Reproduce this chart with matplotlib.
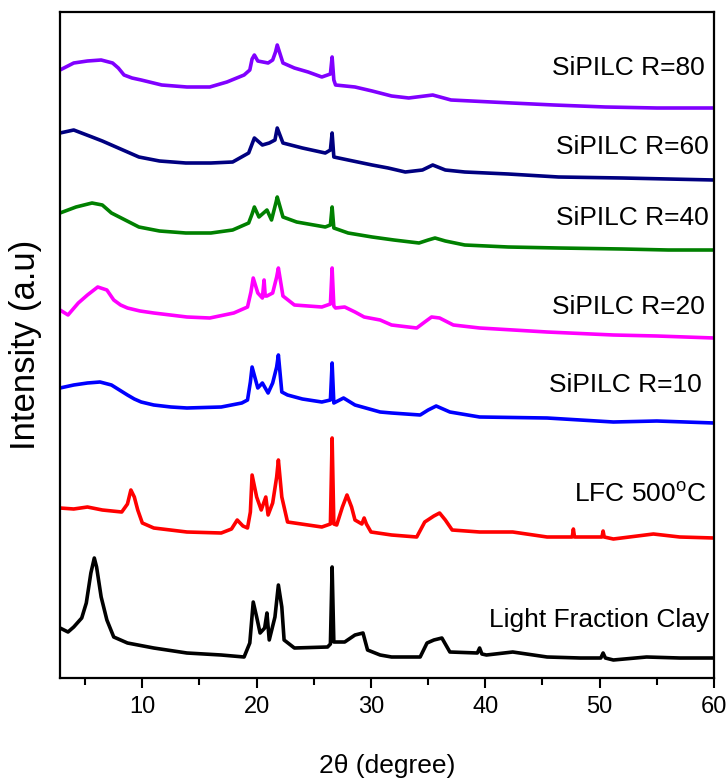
import matplotlib
matplotlib.use("Agg")
import matplotlib.pyplot as plt
from matplotlib import font_manager

# ---------------- data ----------------
lfc_x = [2.8, 3.5, 4.0, 4.7, 5.1, 5.5, 5.8, 6.0, 6.4, 6.9, 7.5, 8.7, 11.0, 13.9, 16.9, 18.9,
         19.4, 19.7, 20.0, 20.3, 20.7, 20.9, 21.1, 21.6, 21.9, 22.2, 22.4, 23.3, 26.2, 26.45,
         26.6, 26.75, 27.7, 28.6, 29.3, 29.7, 30.8, 31.8, 34.3, 34.9, 35.5, 36.2, 36.9, 39.3,
         39.5, 39.7, 40.1, 42.4, 45.4, 48.3, 50.1, 50.3, 50.5, 51.2, 54.1, 57.0, 60.0]
lfc_y = [34, 30, 35, 44, 59, 89, 104, 95, 65, 42, 25, 19, 14, 9, 7, 5,
         19, 60, 45, 29, 34, 49, 22, 45, 77, 55, 22, 14, 15, 18,
         95, 20, 20, 27, 29, 12, 7, 5, 5, 19, 22, 24, 10, 9,
         14, 8, 7, 10, 5, 4, 4, 9, 4, 2, 5, 4, 4]

c500_x = [2.8, 4.0, 5.2, 6.5, 8.2, 8.7, 9.0, 9.3, 9.6, 10.0, 11.0, 13.9, 16.9, 17.8, 18.3,
          18.8, 19.2, 19.45, 19.6, 20.0, 20.4, 20.8, 21.0, 21.4, 21.75, 21.9, 22.2, 22.7,
          25.7, 26.45, 26.6, 26.75, 27.0, 27.5, 27.9, 28.3, 28.6, 29.2, 29.4, 29.6, 30.0,
          31.8, 34.0, 34.7, 35.5, 36.0, 36.5, 37.1, 39.5, 42.4, 45.4, 47.6, 47.7, 47.8,
          50.2, 50.3, 50.4, 51.2, 54.7, 57.0, 60.0]
c500_y = [154, 153, 155, 152, 150, 158, 172, 165, 152, 139, 134, 130, 129, 133, 142,
          136, 134, 150, 187, 165, 152, 165, 147, 159, 185, 202, 165, 140,
          135, 138, 224, 138, 137, 155, 167, 155, 142, 138, 144, 138, 130,
          127, 125, 140, 146, 149, 142, 132, 130, 130, 125, 125, 133, 125,
          125, 131, 125, 123, 128, 125, 124]

r10_x = [2.8, 4.0, 5.2, 6.3, 7.3, 8.0, 8.7, 9.3, 9.9, 11.0, 12.5, 13.9, 16.9, 18.7, 19.2, 19.45,
         19.6, 20.1, 20.5, 21.0, 21.4, 21.75, 21.9, 22.2, 22.7, 24.0, 25.7, 26.45, 26.6, 26.75,
         27.6, 28.6, 30.8, 31.8, 34.3, 35.0, 35.7, 36.9, 39.5, 45.4, 51.2, 55.0, 60.0]
r10_y = [274, 277, 279, 280, 277, 272, 267, 263, 260, 257, 255, 254, 255, 259, 262, 280,
         295, 274, 279, 269, 279, 295, 307, 270, 267, 263, 260, 262, 299, 259,
         264, 257, 250, 249, 247, 252, 256, 250, 245, 244, 240, 241, 239]

r20_x = [2.8, 3.5, 4.4, 5.2, 6.1, 6.9, 7.5, 8.1, 8.7, 9.8, 11.0, 13.9, 15.9, 18.0, 19.2, 19.5,
         19.7, 20.1, 20.5, 20.65, 20.75, 20.9, 21.4, 21.75, 21.9, 22.3, 23.3, 25.7, 26.45,
         26.6, 26.75, 26.9, 27.7, 28.6, 29.4, 30.8, 31.8, 34.0, 34.7, 35.3, 36.0, 37.2,
         39.5, 45.4, 51.2, 55.0, 60.0]
r20_y = [352, 347, 359, 367, 375, 372, 362, 357, 354, 351, 349, 345, 344, 349, 355, 370,
         384, 369, 364, 382, 366, 366, 369, 385, 394, 366, 357, 355, 358,
         394, 356, 354, 355, 350, 345, 342, 337, 334, 340, 345, 344, 337,
         334, 330, 327, 326, 324]

r40_x = [2.8, 4.2, 5.6, 6.5, 7.3, 8.5, 9.7, 11.5, 13.8, 16.0, 17.9, 19.3, 19.6, 19.8, 20.2,
         20.9, 21.3, 21.7, 21.8, 22.3, 23.5, 26.0, 26.45, 26.6, 26.75, 28.0, 30.1, 32.0,
         34.2, 35.0, 35.6, 36.5, 38.2, 42.0, 46.4, 52.0, 56.0, 60.0]
r40_y = [449, 455, 459, 457, 449, 442, 435, 431, 429, 429, 432, 439, 448, 455, 445,
         452, 442, 460, 465, 445, 440, 435, 437, 455, 434, 429, 425, 422,
         419, 422, 424, 421, 417, 415, 414, 413, 412, 412]

r60_x = [2.8, 4.0, 5.6, 6.5, 7.7, 8.7, 9.7, 11.5, 13.8, 16.0, 17.9, 19.3, 19.6, 19.8, 20.5,
         21.1, 21.6, 21.8, 22.3, 24.0, 26.0, 26.45, 26.6, 26.75, 28.0, 30.1, 31.5, 33.0,
         34.5, 35.4, 36.5, 38.2, 42.0, 46.4, 52.0, 56.0, 60.0]
r60_y = [529, 532, 525, 521, 515, 510, 505, 501, 499, 499, 500, 509, 518, 524, 517,
         519, 522, 534, 519, 514, 509, 512, 529, 505, 502, 497, 494, 490,
         492, 497, 492, 490, 488, 485, 484, 483, 482]

r80_x = [2.8, 4.0, 5.2, 6.4, 7.4, 7.9, 8.4, 9.1, 9.9, 11.7, 13.9, 15.9, 17.4, 18.9, 19.4, 19.6,
         19.8, 20.1, 21.0, 21.4, 21.65, 21.8, 22.3, 23.3, 24.5, 25.7, 26.45, 26.6, 26.75,
         26.9, 28.6, 30.1, 31.8, 33.3, 35.4, 37.0, 42.3, 46.0, 50.5, 55.0, 60.0]
r80_y = [592, 599, 601, 602, 599, 594, 587, 584, 582, 577, 575, 575, 580, 587, 592, 603,
         607, 601, 599, 602, 610, 617, 599, 594, 590, 585, 588, 605, 582,
         577, 575, 571, 566, 564, 567, 562, 559, 557, 555, 554, 554]

series_names = ["Light Fraction Clay", r"LFC 500$^{\mathrm{o}}$C", "SiPILC R=10", "SiPILC R=20",
                "SiPILC R=40", "SiPILC R=60", "SiPILC R=80"]
series_x = [lfc_x, c500_x, r10_x, r20_x, r40_x, r60_x, r80_x]
series_y = [lfc_y, c500_y, r10_y, r20_y, r40_y, r60_y, r80_y]
series_colors = ["#000000", "#FF0000", "#0000FF", "#FF00FF", "#008000", "#000080", "#8000FF"]
# label anchor (right edge x in degrees, y in intensity units)
label_pos = [(59.6, 42), (59.3, 167), (58.9, 277), (59.2, 355), (59.5, 444), (59.5, 515), (59.2, 594)]

x_ticks = [10, 20, 30, 40, 50, 60]
x_minor = [5, 15, 25, 35, 45, 55]

# ---------------- fonts ----------------
names = {f.name for f in font_manager.fontManager.ttflist}
narrow = "Liberation Sans Narrow" in names
base = "Liberation Sans"
tfam = ["Liberation Sans Narrow", base] if narrow else [base]
lab_size = 21.5 if narrow else 19
tick_size = 19 if narrow else 17
xl_size = 21 if narrow else 19
plt.rcParams["mathtext.fontset"] = "custom"
plt.rcParams["mathtext.rm"] = base
plt.rcParams["mathtext.it"] = base + ":italic"
plt.rcParams["mathtext.bf"] = base + ":bold"

# ---------------- figure ----------------
fig = plt.figure(figsize=(7.28, 7.82), dpi=100)
ax = fig.add_axes([60 / 728, 1 - 678 / 782, (714 - 60) / 728, (678 - 12) / 782])

for xs, ys, c in zip(series_x, series_y, series_colors):
    ax.plot(xs, ys, color=c, lw=2.6, solid_joinstyle="round")

for name, (lx, ly) in zip(series_names, label_pos):
    ax.text(lx, ly, name, ha="right", va="center", fontsize=lab_size,
            family=tfam, color="black")

ax.set_xlim(2.8, 60)
ax.set_ylim(-16, 650)
ax.set_xticks(x_ticks)
ax.set_xticks(x_minor, minor=True)
ax.set_yticks([])
ax.tick_params(axis="x", which="major", direction="out", length=7, width=1.5,
               labelsize=tick_size, pad=6)
ax.tick_params(axis="x", which="minor", direction="out", length=5, width=1.5)
for lbl in ax.get_xticklabels():
    lbl.set_family(tfam)
for s in ax.spines.values():
    s.set_linewidth(1.6)

ax.set_xlabel("2θ (degree)", fontsize=xl_size, family=tfam, labelpad=26)
fig.text(25 / 728, 1 - 345 / 782, "Intensity (a.u)", rotation=90, ha="center",
         va="center", fontsize=25, family=[base])

fig.savefig("out.png", dpi=100)
